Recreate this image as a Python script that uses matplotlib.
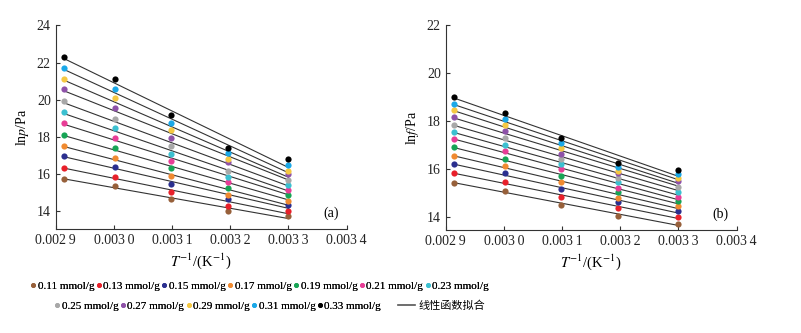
import numpy as np
import matplotlib.pyplot as plt
from matplotlib.lines import Line2D

plt.rcParams['font.family'] = ['Liberation Serif', 'Noto Sans CJK SC']
plt.rcParams['mathtext.fontset'] = 'stix'

# 1/T values of the five temperatures
inv_T = [0.002914, 0.003002, 0.003099, 0.003196, 0.003300]

labels = ['0.11 mmol/g', '0.13 mmol/g', '0.15 mmol/g', '0.17 mmol/g',
          '0.19 mmol/g', '0.21 mmol/g', '0.23 mmol/g', '0.25 mmol/g',
          '0.27 mmol/g', '0.29 mmol/g', '0.31 mmol/g', '0.33 mmol/g']
colors = ['#97603a', '#e8202a', '#2b2f8f', '#f08a30', '#17a455', '#e83d96',
          '#3cc0d0', '#a8a8a8', '#8e52a8', '#f5c842', '#1aa8e8', '#000000']

# ln p (a)
lnp = [
    [15.72, 15.35, 14.63, 14.02, 13.70],
    [16.33, 15.85, 15.04, 14.29, 14.02],
    [16.98, 16.37, 15.47, 14.66, 14.34],
    [17.52, 16.85, 15.87, 14.86, 14.54],
    [18.09, 17.41, 16.31, 15.22, 14.83],
    [18.72, 17.95, 16.71, 15.58, 15.13],
    [19.31, 18.48, 17.07, 15.81, 15.40],
    [19.90, 18.97, 17.50, 16.17, 15.67],
    [20.55, 19.56, 17.93, 16.65, 15.97],
    [21.10, 20.08, 18.34, 16.80, 16.17],
    [21.73, 20.55, 18.72, 17.10, 16.46],
    [22.30, 21.12, 19.15, 17.41, 16.78],
]

# ln f (b)
lnf = [
    [15.45, 15.11, 14.53, 14.06, 13.74],
    [15.84, 15.49, 14.86, 14.38, 14.03],
    [16.21, 15.84, 15.17, 14.65, 14.25],
    [16.57, 16.14, 15.46, 14.82, 14.47],
    [16.92, 16.45, 15.74, 15.04, 14.68],
    [17.27, 16.77, 16.02, 15.24, 14.86],
    [17.55, 17.03, 16.21, 15.49, 15.04],
    [17.87, 17.31, 16.43, 15.66, 15.28],
    [18.19, 17.60, 16.66, 15.84, 15.50],
    [18.48, 17.87, 16.91, 15.95, 15.64],
    [18.73, 18.12, 17.12, 16.09, 15.81],
    [19.01, 18.37, 17.32, 16.25, 15.97],
]

xticks = [0.0029, 0.0030, 0.0031, 0.0032, 0.0033, 0.0034]
xticklabels = ['0.002\u20099', '0.003\u20090', '0.003\u20091', '0.003\u20092',
               '0.003\u20093', '0.003\u20094']

fig = plt.figure(figsize=(8.01, 3.33), dpi=100)
ax1 = fig.add_axes([0.0695, 0.311, 0.3633, 0.6126])
ax2 = fig.add_axes([0.5564, 0.309, 0.3633, 0.6146])

x = np.array(inv_T)
for ax, data, ylab, ylim, yt, tag in [
        (ax1, lnp, 'ln$p$/Pa', (13, 24), [14, 16, 18, 20, 22, 24], '(a)'),
        (ax2, lnf, 'ln$f$/Pa', (13.47, 22), [14, 16, 18, 20, 22], '(b)')]:
    for vals, c in zip(data, colors):
        k, b = np.polyfit(x, vals, 1)
        ax.plot(x, k * x + b, color='#333333', lw=0.8, zorder=2)
        ax.scatter(x, vals, s=20, color=c, zorder=3, linewidths=0)
    ax.set_xlim(0.0029, 0.0034)
    ax.set_ylim(*ylim)
    ax.set_xticks(xticks)
    ax.set_xticklabels(xticklabels)
    ax.set_yticks(yt)
    ax.spines['top'].set_visible(False)
    ax.spines['right'].set_visible(False)
    ax.spines['left'].set_color('#333333')
    ax.spines['bottom'].set_color('#333333')
    ax.tick_params(direction='in', length=3, labelsize=10, colors='#333333',
                   labelcolor='#222222')
    ax.set_ylabel(ylab, fontsize=10, labelpad=4)
    ax.set_xlabel('$T^{-1}$/(K$^{-1}$)', fontsize=10.5, labelpad=3)
    ax.text(0.945, 0.045, tag, transform=ax.transAxes, fontsize=10,
            ha='center', va='bottom')

handles = [Line2D([], [], ls='none', marker='o', ms=3.5, color=c,
                  markeredgewidth=0) for c in colors]
fit_handle = Line2D([], [], color='#555555', lw=1.2)

leg_kw = dict(loc='center left', frameon=False, fontsize=8, handlelength=0.5,
              handletextpad=0.15, columnspacing=0.15, borderpad=0,
              borderaxespad=0)
leg1 = fig.legend(handles[:7], labels[:7], ncol=7,
                  bbox_to_anchor=(0.038, 0.142), **leg_kw)
fig.add_artist(leg1)
leg2 = fig.legend(handles[7:], labels[7:], ncol=5,
                  bbox_to_anchor=(0.068, 0.082), **leg_kw)
fig.add_artist(leg2)
leg_kw['handlelength'] = 1.5
leg_kw['handletextpad'] = 0.3
fig.legend([fit_handle], ['线性函数拟合'],
           bbox_to_anchor=(0.497, 0.082), **leg_kw)

fig.savefig('out.png', dpi=100)
